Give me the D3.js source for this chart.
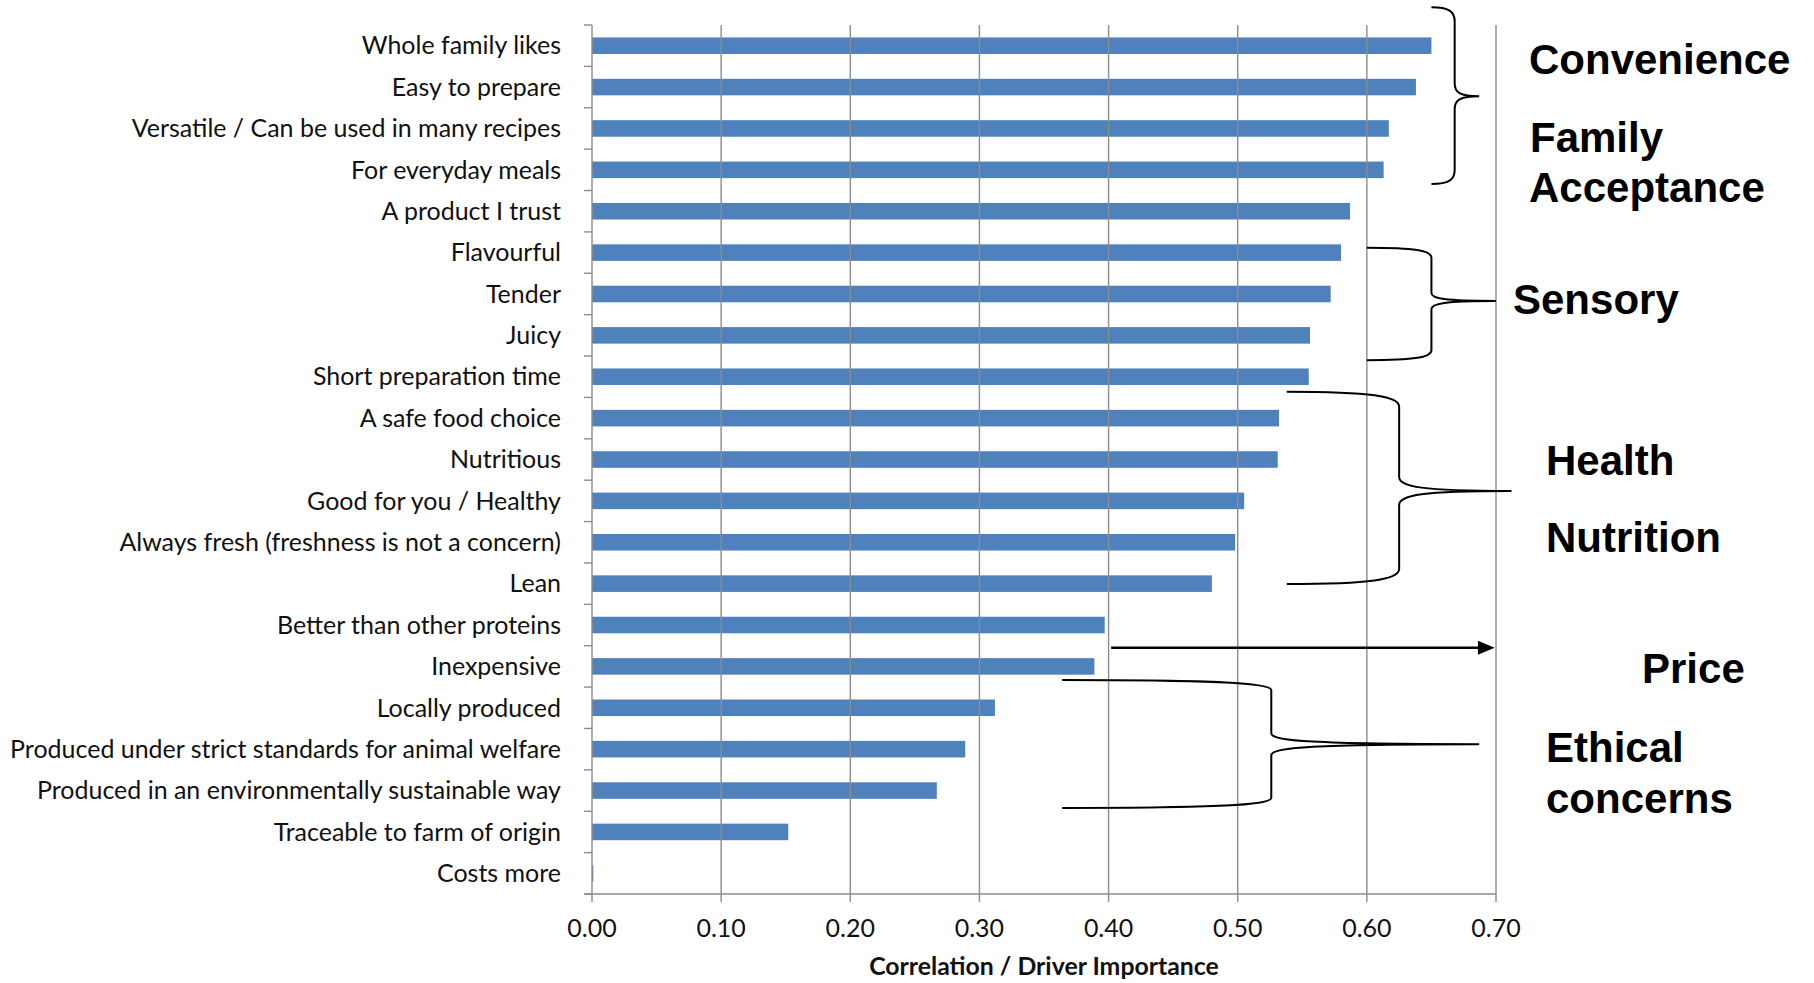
<!DOCTYPE html>
<html><head><meta charset="utf-8">
<script src="https://cdn.jsdelivr.net/npm/d3@7"></script>
<style>html,body{margin:0;padding:0;background:#fff;} svg{display:block}</style>
</head><body>
<script>
const categories = [
  "Whole family likes",
  "Easy to prepare",
  "Versatile / Can be used in many recipes",
  "For everyday meals",
  "A product I trust",
  "Flavourful",
  "Tender",
  "Juicy",
  "Short preparation time",
  "A safe food choice",
  "Nutritious",
  "Good for you / Healthy",
  "Always fresh (freshness is not a concern)",
  "Lean",
  "Better than other proteins",
  "Inexpensive",
  "Locally produced",
  "Produced under strict standards for animal welfare",
  "Produced in an environmentally sustainable way",
  "Traceable to farm of origin",
  "Costs more"
];
const values = [0.650, 0.638, 0.617, 0.613, 0.587, 0.580, 0.572, 0.556, 0.555, 0.532, 0.531, 0.505, 0.498, 0.480, 0.397, 0.389, 0.312, 0.289, 0.267, 0.152, 0.001];
const xTicks = [0, 0.1, 0.2, 0.3, 0.4, 0.5, 0.6, 0.7];
const xTitle = "Correlation / Driver Importance";
const groupNames = ["Convenience", "Family", "Acceptance", "Sensory", "Health", "Nutrition", "Price", "Ethical", "concerns"];

const W = 1814, H = 983;
const svg = d3.select("body").append("svg").attr("width", W).attr("height", H);
const x = d3.scaleLinear().domain([0, 0.7]).range([592, 1496]);
const y = d3.scaleBand().domain(categories).range([25, 894]).paddingInner(0.6).paddingOuter(0.3);
const step = y.step();
const yTop = y.range()[0], yBot = y.range()[1];
const yb = u => yTop + u * step;
const gridColor = "#8c8c8c";
const data = categories.map((c, i) => ({c, v: values[i]}));

// bars
svg.append("g").selectAll("rect").data(data).join("rect")
  .attr("x", x(0)).attr("y", d => y(d.c))
  .attr("width", d => x(d.v) - x(0)).attr("height", y.bandwidth())
  .attr("fill", "#4f81bd");

// gridlines + bottom ticks
svg.append("g").selectAll("line").data(xTicks).join("line")
  .attr("x1", d => x(d)).attr("x2", d => x(d))
  .attr("y1", yTop).attr("y2", yBot + 8)
  .attr("stroke", gridColor).attr("stroke-width", 1.4);

// left boundary ticks
svg.append("g").selectAll("line").data(d3.range(categories.length + 1)).join("line")
  .attr("x1", x(0) - 8).attr("x2", x(0))
  .attr("y1", k => yb(k)).attr("y2", k => yb(k))
  .attr("stroke", gridColor).attr("stroke-width", 1.4);
// bottom axis line
svg.append("line").attr("x1", x(0) - 8).attr("x2", x(0.7)).attr("y1", yBot).attr("y2", yBot)
  .attr("stroke", gridColor).attr("stroke-width", 1.4);

// category labels
const labFont = "Lato, 'Open Sans', sans-serif";
const labels = svg.append("g").selectAll("text").data(data).join("text")
  .attr("x", 561).attr("y", d => y(d.c) + y.bandwidth() / 2).attr("dy", "0.35em")
  .attr("text-anchor", "end").attr("font-family", labFont).attr("font-size", 23)
  .attr("fill", "#111").text(d => d.c);
let maxW = 0;
labels.each(function() { maxW = Math.max(maxW, this.getComputedTextLength()); });
const fs = 23 * 551 / maxW;
labels.attr("font-size", fs);

// x tick labels
svg.append("g").selectAll("text").data(xTicks).join("text")
  .attr("x", d => x(d)).attr("y", 937).attr("text-anchor", "middle")
  .attr("font-family", labFont).attr("font-size", fs).attr("fill", "#111")
  .text(d3.format(".2f"));

// x title
const t = svg.append("text").attr("x", (x(0) + x(0.7)) / 2).attr("y", 975)
  .attr("text-anchor", "middle").attr("font-family", labFont).attr("font-weight", "bold")
  .attr("font-size", 20).attr("fill", "#111").text(xTitle);
const tw = t.node().getComputedTextLength();
t.attr("font-size", 20 * 350 / tw);

// braces
function brace(xa, xm, xt, y0, yt, y1, r0, r1) {
  const p = d3.path();
  p.moveTo(xa, y0);
  p.bezierCurveTo(xm - 0.25 * (xm - xa), y0, xm, y0 + 0.3 * r0, xm, y0 + r0);
  p.lineTo(xm, yt - r1);
  p.bezierCurveTo(xm, yt - 0.3 * r1, xm + 0.2 * (xt - xm), yt, xt, yt);
  p.bezierCurveTo(xm + 0.2 * (xt - xm), yt, xm, yt + 0.3 * r1, xm, yt + r1);
  p.lineTo(xm, y1 - r0);
  p.bezierCurveTo(xm, y1 - 0.3 * r0, xm - 0.25 * (xm - xa), y1, xa, y1);
  return p.toString();
}
const braces = [
  [x(0.65), x(0.668), x(0.687), yb(-0.43), yb(1.72), yb(3.84), 14, 13],
  [x(0.60), x(0.65), x(0.70), yb(5.38), yb(6.67), yb(8.10), 10, 8],
  [x(0.538), x(0.625), x(0.712), yb(8.86), yb(11.26), yb(13.51), 15, 14],
  [x(0.364), x(0.526), x(0.687), yb(15.83), yb(17.38), yb(18.92), 10, 11]
];
svg.append("g").selectAll("path").data(braces).join("path")
  .attr("d", b => brace(...b)).attr("fill", "none").attr("stroke", "#000").attr("stroke-width", 2);

// price arrow
const ay = yb(15.05);
svg.append("line").attr("x1", x(0.402)).attr("x2", x(0.688)).attr("y1", ay).attr("y2", ay)
  .attr("stroke", "#000").attr("stroke-width", 2.5);
svg.append("path")
  .attr("d", `M${x(0.699)},${ay} L${x(0.686)},${ay - 7} L${x(0.686)},${ay + 7} Z`)
  .attr("fill", "#000");

// group labels
const gx = [1529, 1530, 1529, 1513, 1546, 1546, 1642, 1546, 1546];
const gy = [74, 152, 202, 314, 475, 552, 683, 762, 813];
svg.append("g").selectAll("text").data(groupNames).join("text")
  .attr("x", (d, i) => gx[i]).attr("y", (d, i) => gy[i])
  .attr("font-family", "'Liberation Sans', Arial, sans-serif").attr("font-weight", "bold")
  .attr("font-size", 42).attr("fill", "#000").text(d => d);
</script>
</body></html>
